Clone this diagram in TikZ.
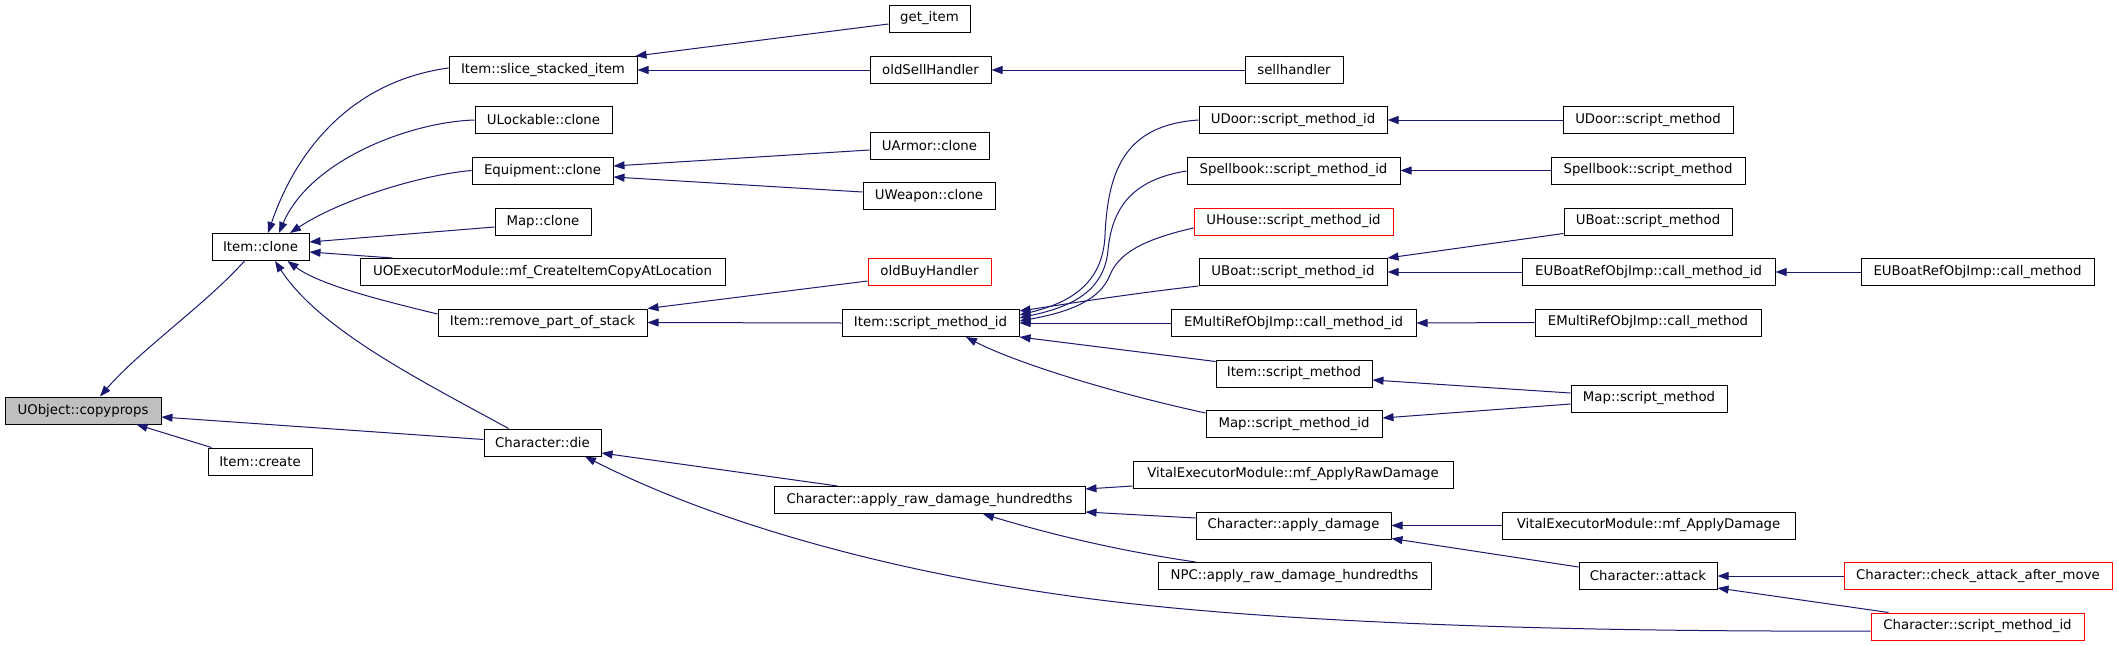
\documentclass[tikz,border=0pt]{standalone}
\usepackage{fontspec}
\setmainfont{DejaVu Sans}
\usetikzlibrary{arrows.meta,calc}
\definecolor{edgecol}{HTML}{191970}
\definecolor{nodered}{HTML}{FF0000}
\definecolor{nodegray}{HTML}{BFBFBF}
\begin{document}
\begin{tikzpicture}[x=1pt,y=-1pt,
  fn/.style={draw=black, line width=1pt, fill=white, inner sep=0pt, minimum height=27pt,
             font=\fontsize{13.3}{16}\selectfont, text=black},
  rednode/.style={fn, draw=nodered},
  rootnode/.style={fn, fill=nodegray},
  edge/.style={draw=edgecol, line width=1pt, -{Triangle[length=11pt,width=8pt]}}]
\fill[white] (0,0) rectangle (2117,645);
\useasboundingbox (0,0) rectangle (2117,645);
% column 0-1
\node[rootnode, minimum width=156pt] (copyprops) at (83,410.5) {UObject::copyprops};
\node[fn, minimum width=97pt] (itemclone) at (260.5,247) {Item::clone};
\node[fn, minimum width=104pt] (itemcreate) at (260,461.5) {Item::create};
% column 2
\node[fn, minimum width=188pt] (slice) at (543,70) {Item::slice\_stacked\_item};
\node[fn, minimum width=137pt] (ulock) at (543.5,120) {ULockable::clone};
\node[fn, minimum width=141pt] (equip) at (542.5,170.5) {Equipment::clone};
\node[fn, minimum width=96pt] (mapclone) at (543,222) {Map::clone};
\node[fn, minimum width=365pt] (uoexec) at (542.5,272) {UOExecutorModule::mf\_CreateItemCopyAtLocation};
\node[fn, minimum width=209pt] (remove) at (542.5,322.5) {Item::remove\_part\_of\_stack};
\node[fn, minimum width=117pt] (die) at (542.5,442.5) {Character::die};
% column 3
\node[fn, minimum width=81pt] (getitem) at (929.5,18.5) {get\_item};
\node[fn, minimum width=121pt] (oldsell) at (930.5,70) {oldSellHandler};
\node[fn, minimum width=119pt] (uarmor) at (929.5,145.5) {UArmor::clone};
\node[fn, minimum width=132pt] (uweapon) at (929,196) {UWeapon::clone};
\node[rednode, minimum width=123pt] (oldbuy) at (929.5,272) {oldBuyHandler};
\node[fn, minimum width=177pt] (ismid) at (930.5,323) {Item::script\_method\_id};
\node[fn, minimum width=311pt] (applyraw) at (929.5,500) {Character::apply\_raw\_damage\_hundredths};
% column 4
\node[fn, minimum width=98pt] (sellhandler) at (1294,70) {sellhandler};
\node[fn, minimum width=188pt] (udoorid) at (1293,120) {UDoor::script\_method\_id};
\node[fn, minimum width=213pt] (spellid) at (1293.5,170.5) {Spellbook::script\_method\_id};
\node[rednode, minimum width=199pt] (uhouse) at (1293.5,221.5) {UHouse::script\_method\_id};
\node[fn, minimum width=188pt] (uboatid) at (1293,272) {UBoat::script\_method\_id};
\node[fn, minimum width=245pt] (emultiid) at (1293.5,323) {EMultiRefObjImp::call\_method\_id};
\node[fn, minimum width=156pt] (itemsm) at (1294,373.5) {Item::script\_method};
\node[fn, minimum width=176pt] (mapsmid) at (1294,424) {Map::script\_method\_id};
\node[fn, minimum width=320pt] (vitalraw) at (1293,474.5) {VitalExecutorModule::mf\_ApplyRawDamage};
\node[fn, minimum width=195pt] (applydmg) at (1293.5,525.5) {Character::apply\_damage};
\node[fn, minimum width=273pt] (npc) at (1294.5,576) {NPC::apply\_raw\_damage\_hundredths};
% column 5
\node[fn, minimum width=170pt] (udoorsm) at (1648,120) {UDoor::script\_method};
\node[fn, minimum width=194pt] (spellsm) at (1648,170.5) {Spellbook::script\_method};
\node[fn, minimum width=168pt] (uboatsm) at (1648,221.5) {UBoat::script\_method};
\node[fn, minimum width=253pt] (eubid) at (1648.5,272) {EUBoatRefObjImp::call\_method\_id};
\node[fn, minimum width=226pt] (emultism) at (1648,322.5) {EMultiRefObjImp::call\_method};
\node[fn, minimum width=156pt] (mapsm) at (1649,398.5) {Map::script\_method};
\node[fn, minimum width=293pt] (vitaldmg) at (1648.5,525.5) {VitalExecutorModule::mf\_ApplyDamage};
\node[fn, minimum width=138pt] (attack) at (1648,576) {Character::attack};
% column 6
\node[fn, minimum width=233pt] (eubsm) at (1977.5,272) {EUBoatRefObjImp::call\_method};
\node[rednode, minimum width=268pt] (checkatk) at (1978,576) {Character::check\_attack\_after\_move};
\node[rednode, minimum width=213pt] (charsmid) at (1977.5,626.5) {Character::script\_method\_id};
% edges into copyprops
\draw[edge] ($(itemclone.south west)+(33,0)$) .. controls (205,305) and (140,350) .. ($(copyprops.north)+(17,0)$);
\draw[edge] ($(die.west)+(0,-3)$) -- ($(copyprops.east)+(0,6.5)$);
\draw[edge] ($(itemcreate.north west)+(4,0)$) -- ($(copyprops.south east)+(-25,0)$);
% edges into itemclone
\draw[edge] ($(slice.west)+(0,-2)$) .. controls (360,80) and (300,140) .. ($(itemclone.north)+(7.5,0)$);
\draw[edge] (ulock.west) .. controls (410,122) and (310,160) .. ($(itemclone.north)+(18.5,0)$);
\draw[edge] (equip.west) .. controls (420,175) and (340,200) .. ($(itemclone.north)+(29.5,0)$);
\draw[edge] ($(mapclone.west)+(0,5)$) -- ($(itemclone.east)+(0,-5)$);
\draw[edge] ($(uoexec.north west)+(33,0)$) -- ($(itemclone.east)+(0,5)$);
\draw[edge] ($(remove.west)+(0,-8.5)$) .. controls (380,300) and (320,285) .. ($(itemclone.south)+(27,0)$);
\draw[edge] ($(die.north west)+(25,0)$) .. controls (420,380) and (320,330) .. ($(itemclone.south)+(14.5,0)$);
% column 2 incoming
\draw[edge] ($(uarmor.west)+(0,4.5)$) -- ($(equip.east)+(0,-4.5)$);
\draw[edge] ($(uweapon.west)+(0,-4)$) -- ($(equip.east)+(0,6.5)$);
\draw[edge] ($(getitem.west)+(0,5.5)$) -- ($(slice.north east)+(-2,0)$);
\draw[edge] (oldsell.west) -- (slice.east);
\draw[edge] (sellhandler.west) -- (oldsell.east);
\draw[edge] ($(oldbuy.west)+(0,9)$) -- (remove.north east);
\draw[edge] (ismid.west) -- (remove.east);
% into ismid
\draw[edge] (udoorid.west) .. controls (1125,125) and (1108,170) .. (1105,235) .. controls (1103,290) and (1060,305) .. ($(ismid.east)+(0,-8)$);
\draw[edge] ($(spellid.west)+(0,0.5)$) .. controls (1130,180) and (1112,210) .. (1108,250) .. controls (1104,295) and (1065,308) .. ($(ismid.east)+(0,-5)$);
\draw[edge] ($(uhouse.west)+(0,6.5)$) .. controls (1140,240) and (1118,255) .. (1110,275) .. controls (1100,300) and (1070,312) .. ($(ismid.east)+(0,-2)$);
\draw[edge] (uboatid.south west) .. controls (1120,295) and (1060,305) .. ($(ismid.north east)+(0,2)$);
\draw[edge] (emultiid.west) -- (ismid.east);
\draw[edge] ($(itemsm.north west)+(0,2)$) -- (ismid.south east);
\draw[edge] ($(mapsmid.west)+(0,-11)$) .. controls (1100,390) and (1010,360) .. ($(ismid.south)+(35.5,0)$);
% column 4 incoming
\draw[edge] (udoorsm.west) -- (udoorid.east);
\draw[edge] (spellsm.west) -- (spellid.east);
\draw[edge] ($(uboatsm.south west)+(0,-2)$) -- (uboatid.north east);
\draw[edge] (eubid.west) -- (uboatid.east);
\draw[edge] (eubsm.west) -- (eubid.east);
\draw[edge] (emultism.west) -- (emultiid.east);
\draw[edge] ($(mapsm.west)+(0,-5.5)$) -- ($(itemsm.east)+(0,6.5)$);
\draw[edge] ($(mapsm.west)+(0,5.5)$) -- ($(mapsmid.east)+(0,-6)$);
% damage chain
\draw[edge] ($(applyraw.north west)+(64,0)$) -- ($(die.east)+(0,10.5)$);
\draw[edge] ($(charsmid.west)+(0,4.5)$) .. controls (1600,632) and (1300,625) .. (1100,600) .. controls (900,575) and (720,525) .. ($(die.south)+(42.5,0)$);
\draw[edge] ($(vitalraw.west)+(0,11.5)$) -- ($(applyraw.east)+(0,-11)$);
\draw[edge] ($(applydmg.west)+(0,-7.5)$) -- ($(applyraw.east)+(0,12)$);
\draw[edge] ($(npc.north west)+(38,0)$) .. controls (1100,548) and (1030,528) .. ($(applyraw.south)+(53.5,0)$);
\draw[edge] (vitaldmg.west) -- (applydmg.east);
\draw[edge] ($(attack.west)+(0,-9)$) -- ($(applydmg.south east)+(0,-1)$);
\draw[edge] (checkatk.west) -- (attack.east);
\draw[edge] ($(charsmid.north west)+(18,0)$) -- ($(attack.east)+(0,12)$);
\end{tikzpicture}
\end{document}
